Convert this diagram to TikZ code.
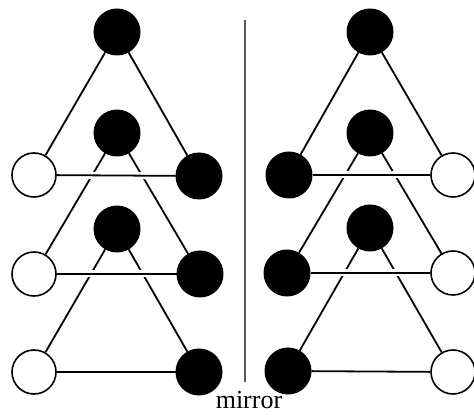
\documentclass[tikz,border=0pt]{standalone}
\usepackage{fontspec}
\setmainfont{Liberation Serif}
\pgfdeclarelayer{bg}
\pgfsetlayers{bg,main}
\tikzset{
  full/.style={circle, fill=black, draw=black, line width=1pt, minimum size=46pt, inner sep=0pt},
  empty/.style={circle, fill=white, draw=black, line width=1.6pt, minimum size=44pt, inner sep=0pt},
  edge/.style={line width=1.8pt, black},
  bar/.style={line width=1.8pt, black, preaction={draw=white, line width=7pt}},
  mirrorline/.style={line width=1.3pt, black!65}
}
\begin{document}
\begin{tikzpicture}[x=1pt,y=1pt]
\useasboundingbox (0,0) rectangle (474,415);
% left molecule
\node[full] (LT1) at (117,383) {};
\node[full] (LT2) at (117,282) {};
\node[full] (LT3) at (117,186) {};
\node[empty] (LL1) at (34,240) {};
\node[full] (LR1) at (199,239) {};
\node[empty] (LL2) at (34,141) {};
\node[full] (LR2) at (200,141) {};
\node[empty] (LL3) at (34,43) {};
\node[full] (LR3) at (199,43) {};
% right molecule
\node[full] (RT1) at (370,383) {};
\node[full] (RT2) at (370,282) {};
\node[full] (RT3) at (370,187) {};
\node[full] (RL1) at (289,240) {};
\node[empty] (RR1) at (453,240) {};
\node[full] (RL2) at (287,142) {};
\node[empty] (RR2) at (453,142) {};
\node[full] (RL3) at (288,44) {};
\node[empty] (RR3) at (453,43) {};
% mirror
\coordinate (MT) at (245,395);
\coordinate (MB) at (245,33);
\draw[mirrorline] (MT) -- (MB);
\node[font=\fontsize{26}{30}\selectfont, anchor=base, inner sep=0pt] (lab) at (249,6) {mirror};
\begin{pgfonlayer}{bg}
  \draw[edge] (LT1) -- (LL1); \draw[edge] (LT1) -- (LR1);
  \draw[edge] (LT2) -- (LL2); \draw[edge] (LT2) -- (LR2);
  \draw[edge] (LT3) -- (LL3); \draw[edge] (LT3) -- (LR3);
  \draw[edge] (RT1) -- (RL1); \draw[edge] (RT1) -- (RR1);
  \draw[edge] (RT2) -- (RL2); \draw[edge] (RT2) -- (RR2);
  \draw[edge] (RT3) -- (RL3); \draw[edge] (RT3) -- (RR3);
  \draw[bar] (LL1) -- (LR1);
  \draw[bar] (LL2) -- (LR2);
  \draw[edge] (LL3) -- (LR3);
  \draw[bar] (RL1) -- (RR1);
  \draw[bar] (RL2) -- (RR2);
  \draw[edge] (RL3) -- (RR3);
\end{pgfonlayer}
\end{tikzpicture}
\end{document}
